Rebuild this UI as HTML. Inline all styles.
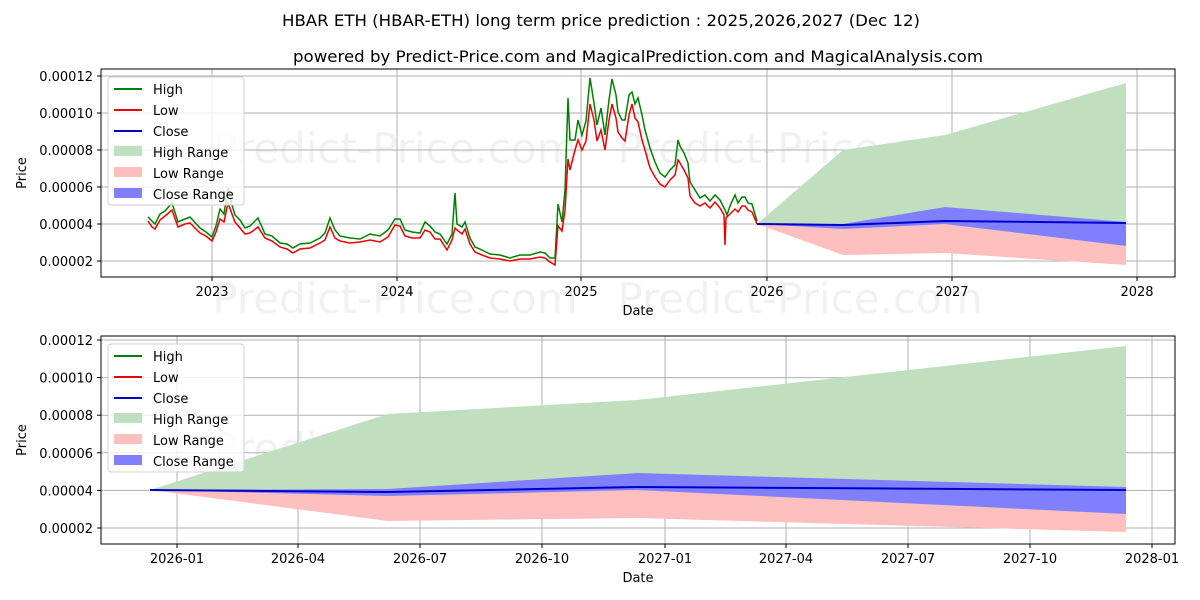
<!DOCTYPE html>
<html><head><meta charset="utf-8"><style>body{margin:0;background:#fff}svg{display:block}text{font-family:"DejaVu Sans","Liberation Sans",sans-serif;fill:#000}</style></head><body>
<svg width="1200" height="600" viewBox="0 0 1200 600" xmlns="http://www.w3.org/2000/svg">
<text x="601" y="26" font-size="16" text-anchor="middle" textLength="638" lengthAdjust="spacingAndGlyphs">HBAR ETH (HBAR-ETH) long term price prediction : 2025,2026,2027 (Dec 12)</text>
<text x="638" y="62" font-size="16" text-anchor="middle" textLength="690" lengthAdjust="spacingAndGlyphs">powered by Predict-Price.com and MagicalPrediction.com and MagicalAnalysis.com</text>

<!-- TOP CHART -->
<g font-size="42" fill="#000" opacity="0.05" text-anchor="middle"><text x="395" y="163">Predict-Price.com</text><text x="800" y="163">Predict-Price.com</text><text x="395" y="313">Predict-Price.com</text><text x="800" y="313">Predict-Price.com</text></g>
<g stroke="#b0b0b0" stroke-width="1">
<line x1="212" y1="69" x2="212" y2="277"/><line x1="397" y1="69" x2="397" y2="277"/><line x1="581" y1="69" x2="581" y2="277"/><line x1="767" y1="69" x2="767" y2="277"/><line x1="952" y1="69" x2="952" y2="277"/><line x1="1137" y1="69" x2="1137" y2="277"/>
<line x1="101" y1="76" x2="1175" y2="76"/><line x1="101" y1="113" x2="1175" y2="113"/><line x1="101" y1="150" x2="1175" y2="150"/><line x1="101" y1="187" x2="1175" y2="187"/><line x1="101" y1="224" x2="1175" y2="224"/><line x1="101" y1="261" x2="1175" y2="261"/>
</g>
<polygon points="757,224 843,150 945,135 1126,83 1126,224" fill="#bfdfbf"/>
<polygon points="757,224 843,255 945,253 1126,265 1126,224" fill="#ffbfbf"/>
<polygon points="757,224 843,224 945,207 1126,222 1126,246 945,224 843,229" fill="#8080ff"/>
<polyline fill="none" stroke="#0000cc" stroke-width="2" points="757,224 843,225 945,221 1126,223"/>
<polyline fill="none" stroke="#008000" stroke-width="1.5" points="148,217 155,224 160,214 165,211 172,203 178,222 185,219 190,217 200,228 206,232 212,237 216,226 220,209 224,214 228,188 232,205 235,215 240,220 245,228 250,226 258,218 265,234 272,236 280,243 287,244 293,248 300,244 310,243 320,238 325,233 330,218 335,230 340,236 350,238 360,239 370,234 380,236 388,230 395,219 400,219 405,230 412,232 420,233 425,222 430,226 435,232 440,234 447,244 452,234 455,193 457,224 462,227 465,222 470,238 475,247 482,250 490,254 500,255 510,258 520,255 530,255 540,252 545,253 550,258 555,258 558,204 562,222 565,190 568,98 570,140 575,140 578,120 582,135 586,121 590,78 594,103 597,125 601,108 605,135 609,100 612,79 616,95 618,112 622,120 625,120 629,95 632,92 635,104 638,98 642,115 645,130 650,148 655,162 660,173 665,177 670,170 675,165 678,140 680,146 684,153 688,163 690,182 695,190 700,198 705,195 710,201 715,195 720,200 725,210 727,215 730,206 735,195 738,203 742,197 745,197 748,203 752,204 757,221"/>
<polyline fill="none" stroke="#ee0000" stroke-width="1.5" points="148,221 152,227 155,229 160,220 165,216 172,210 178,227 185,224 190,223 200,233 206,236 212,241 216,232 220,219 224,222 228,203 232,214 235,222 240,228 245,234 250,233 258,227 265,238 272,241 280,247 287,249 293,253 300,249 310,248 320,243 325,240 330,227 335,238 340,241 350,243 360,242 370,240 380,242 388,237 395,225 400,226 405,236 412,238 420,238 425,230 430,232 435,239 440,239 447,250 452,240 455,228 457,230 462,234 465,229 470,244 475,252 482,255 490,258 500,259 510,261 520,259 530,259 540,257 545,258 550,262 555,265 558,226 562,231 565,210 568,159 570,170 575,150 578,140 582,150 586,141 590,104 594,120 597,141 601,130 605,150 609,120 612,104 616,118 618,132 622,138 625,141 629,115 632,104 635,118 638,122 642,140 645,150 650,168 655,177 660,184 665,187 670,180 675,175 678,160 680,163 684,170 688,178 690,196 695,203 700,206 705,203 710,208 715,202 720,208 724,215 725,245 726,218 730,214 735,209 738,212 742,206 745,206 748,210 752,212 757,224"/>
<rect x="101" y="69" width="1074" height="208" fill="none" stroke="#000" stroke-width="1"/>
<g stroke="#000"><line x1="97" y1="76" x2="101" y2="76"/><line x1="97" y1="113" x2="101" y2="113"/><line x1="97" y1="150" x2="101" y2="150"/><line x1="97" y1="187" x2="101" y2="187"/><line x1="97" y1="224" x2="101" y2="224"/><line x1="97" y1="261" x2="101" y2="261"/>
<line x1="212" y1="277" x2="212" y2="281"/><line x1="397" y1="277" x2="397" y2="281"/><line x1="581" y1="277" x2="581" y2="281"/><line x1="767" y1="277" x2="767" y2="281"/><line x1="952" y1="277" x2="952" y2="281"/><line x1="1137" y1="277" x2="1137" y2="281"/></g>
<g font-size="13" text-anchor="end"><text x="93" y="81">0.00012</text><text x="93" y="118">0.00010</text><text x="93" y="155">0.00008</text><text x="93" y="192">0.00006</text><text x="93" y="229">0.00004</text><text x="93" y="266">0.00002</text></g>
<g font-size="13" text-anchor="middle"><text x="212" y="296">2023</text><text x="397" y="296">2024</text><text x="581" y="296">2025</text><text x="767" y="296">2026</text><text x="952" y="296">2027</text><text x="1137" y="296">2028</text><text x="638" y="315">Date</text></g>
<text x="26" y="173" font-size="13" text-anchor="middle" transform="rotate(-90 26 173)">Price</text>
<g>
<rect x="108" y="77" width="136" height="128" rx="3" fill="#fff" fill-opacity="0.8" stroke="#d0d0d0"/>
<line x1="114" y1="89" x2="142" y2="89" stroke="#008000" stroke-width="2"/><line x1="114" y1="110" x2="142" y2="110" stroke="#ee0000" stroke-width="2"/><line x1="114" y1="131" x2="142" y2="131" stroke="#0000cc" stroke-width="2"/>
<rect x="114" y="146" width="28" height="10" fill="#bfdfbf"/><rect x="114" y="167" width="28" height="10" fill="#ffbfbf"/><rect x="114" y="188" width="28" height="10" fill="#8080ff"/>
<g font-size="13"><text x="153" y="94">High</text><text x="153" y="115">Low</text><text x="153" y="136">Close</text><text x="153" y="157">High Range</text><text x="153" y="178">Low Range</text><text x="153" y="199">Close Range</text></g>
</g>

<!-- BOTTOM CHART -->
<g font-size="42" fill="#000" opacity="0.05" text-anchor="middle"><text x="395" y="463">Predict-Price.com</text><text x="800" y="463">Predict-Price.com</text></g>
<g stroke="#b0b0b0" stroke-width="1">
<line x1="177" y1="336" x2="177" y2="544"/><line x1="298" y1="336" x2="298" y2="544"/><line x1="420" y1="336" x2="420" y2="544"/><line x1="542" y1="336" x2="542" y2="544"/><line x1="665" y1="336" x2="665" y2="544"/><line x1="786" y1="336" x2="786" y2="544"/><line x1="908" y1="336" x2="908" y2="544"/><line x1="1030" y1="336" x2="1030" y2="544"/><line x1="1152" y1="336" x2="1152" y2="544"/>
<line x1="101" y1="340" x2="1175" y2="340"/><line x1="101" y1="377.6" x2="1175" y2="377.6"/><line x1="101" y1="415.2" x2="1175" y2="415.2"/><line x1="101" y1="452.8" x2="1175" y2="452.8"/><line x1="101" y1="490.4" x2="1175" y2="490.4"/><line x1="101" y1="528" x2="1175" y2="528"/>
</g>
<polygon points="150,490 388,414 637,400 1126,346 1126,490" fill="#bfdfbf"/>
<polygon points="150,490 388,521 637,518 1126,532 1126,490" fill="#ffbfbf"/>
<polygon points="150,490 388,489 637,473 1126,487 1126,514 637,490 388,496" fill="#8080ff"/>
<polyline fill="none" stroke="#0000cc" stroke-width="2" points="150,490 388,492 637,487 1126,490"/>
<rect x="101" y="336" width="1074" height="208" fill="none" stroke="#000" stroke-width="1"/>
<g stroke="#000"><line x1="97" y1="340" x2="101" y2="340"/><line x1="97" y1="377.6" x2="101" y2="377.6"/><line x1="97" y1="415.2" x2="101" y2="415.2"/><line x1="97" y1="452.8" x2="101" y2="452.8"/><line x1="97" y1="490.4" x2="101" y2="490.4"/><line x1="97" y1="528" x2="101" y2="528"/>
<line x1="177" y1="544" x2="177" y2="548"/><line x1="298" y1="544" x2="298" y2="548"/><line x1="420" y1="544" x2="420" y2="548"/><line x1="542" y1="544" x2="542" y2="548"/><line x1="665" y1="544" x2="665" y2="548"/><line x1="786" y1="544" x2="786" y2="548"/><line x1="908" y1="544" x2="908" y2="548"/><line x1="1030" y1="544" x2="1030" y2="548"/><line x1="1152" y1="544" x2="1152" y2="548"/></g>
<g font-size="13" text-anchor="end"><text x="93" y="345">0.00012</text><text x="93" y="382.6">0.00010</text><text x="93" y="420.2">0.00008</text><text x="93" y="457.8">0.00006</text><text x="93" y="495.4">0.00004</text><text x="93" y="533">0.00002</text></g>
<g font-size="13" text-anchor="middle"><text x="177" y="563">2026-01</text><text x="298" y="563">2026-04</text><text x="420" y="563">2026-07</text><text x="542" y="563">2026-10</text><text x="665" y="563">2027-01</text><text x="786" y="563">2027-04</text><text x="908" y="563">2027-07</text><text x="1030" y="563">2027-10</text><text x="1152" y="563">2028-01</text><text x="638" y="582">Date</text></g>
<text x="26" y="440" font-size="13" text-anchor="middle" transform="rotate(-90 26 440)">Price</text>
<g>
<rect x="108" y="344" width="136" height="128" rx="3" fill="#fff" fill-opacity="0.8" stroke="#d0d0d0"/>
<line x1="114" y1="356" x2="142" y2="356" stroke="#008000" stroke-width="2"/><line x1="114" y1="377" x2="142" y2="377" stroke="#ee0000" stroke-width="2"/><line x1="114" y1="398" x2="142" y2="398" stroke="#0000cc" stroke-width="2"/>
<rect x="114" y="413" width="28" height="10" fill="#bfdfbf"/><rect x="114" y="434" width="28" height="10" fill="#ffbfbf"/><rect x="114" y="455" width="28" height="10" fill="#8080ff"/>
<g font-size="13"><text x="153" y="361">High</text><text x="153" y="382">Low</text><text x="153" y="403">Close</text><text x="153" y="424">High Range</text><text x="153" y="445">Low Range</text><text x="153" y="466">Close Range</text></g>
</g>
</svg>
</body></html>
